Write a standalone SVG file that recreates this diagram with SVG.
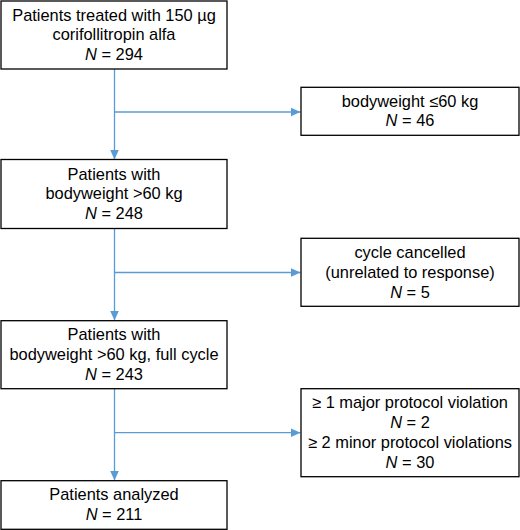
<svg xmlns="http://www.w3.org/2000/svg" width="520" height="530" viewBox="0 0 520 530">
<style>
.box{fill:#fff;stroke:#000;stroke-width:1.3}
.t{font-family:"Liberation Sans",Arial,sans-serif;font-size:16.4px;fill:#000;text-anchor:middle}
.c{fill:none;stroke:#5b9bd5;stroke-width:1.3}
</style>
<defs>
<marker id="ah" markerUnits="userSpaceOnUse" markerWidth="10" markerHeight="9" refX="10" refY="4.5" orient="auto">
<path d="M0,0 L10,4.5 L0,9 Z" fill="#5b9bd5"/>
</marker>
</defs>
<rect width="520" height="530" fill="#fff"/>
<g id="connectors">
<line class="c" x1="114.5" y1="69" x2="114.5" y2="159.5" marker-end="url(#ah)"/>
<line class="c" x1="114.5" y1="112" x2="300.5" y2="112" marker-end="url(#ah)"/>
<line class="c" x1="114.5" y1="228.5" x2="114.5" y2="320.5" marker-end="url(#ah)"/>
<line class="c" x1="114.5" y1="272.5" x2="300.5" y2="272.5" marker-end="url(#ah)"/>
<line class="c" x1="114.5" y1="389" x2="114.5" y2="480.5" marker-end="url(#ah)"/>
<line class="c" x1="114.5" y1="432.7" x2="300.5" y2="432.7" marker-end="url(#ah)"/>
</g>
<g id="n1">
<rect class="box" x="1" y="1" width="226" height="68"/>
<text class="t" x="114" y="20.5">Patients treated with 150 µg</text>
<text class="t" x="114" y="40">corifollitropin alfa</text>
<text class="t" x="114" y="59.5"><tspan font-style="italic">N</tspan> = 294</text>
</g>
<g id="n2">
<rect class="box" x="301" y="87.3" width="218" height="48"/>
<text class="t" x="410" y="106.5">bodyweight ≤60 kg</text>
<text class="t" x="410" y="125.5"><tspan font-style="italic">N</tspan> = 46</text>
</g>
<g id="n3">
<rect class="box" x="1" y="159.5" width="226" height="69"/>
<text class="t" x="114" y="179.5">Patients with</text>
<text class="t" x="114" y="199.3">bodyweight &gt;60 kg</text>
<text class="t" x="114" y="219.3"><tspan font-style="italic">N</tspan> = 248</text>
</g>
<g id="n4">
<rect class="box" x="301" y="238.3" width="218" height="68"/>
<text class="t" x="410" y="257.7">cycle cancelled</text>
<text class="t" x="410" y="277.5">(unrelated to response)</text>
<text class="t" x="410" y="297.5"><tspan font-style="italic">N</tspan> = 5</text>
</g>
<g id="n5">
<rect class="box" x="1" y="320.7" width="226" height="68"/>
<text class="t" x="114" y="340">Patients with</text>
<text class="t" x="114" y="360">bodyweight &gt;60 kg, full cycle</text>
<text class="t" x="114" y="380"><tspan font-style="italic">N</tspan> = 243</text>
</g>
<g id="n6">
<rect class="box" x="301" y="388.7" width="218" height="88"/>
<text class="t" x="410" y="407.7">≥ 1 major protocol violation</text>
<text class="t" x="410" y="427.7"><tspan font-style="italic">N</tspan> = 2</text>
<text class="t" x="410" y="447.7">≥ 2 minor protocol violations</text>
<text class="t" x="410" y="467.7"><tspan font-style="italic">N</tspan> = 30</text>
</g>
<g id="n7">
<rect class="box" x="1" y="480.7" width="226" height="48.6"/>
<text class="t" x="114" y="500">Patients analyzed</text>
<text class="t" x="114" y="520"><tspan font-style="italic">N</tspan> = 211</text>
</g>
</svg>
